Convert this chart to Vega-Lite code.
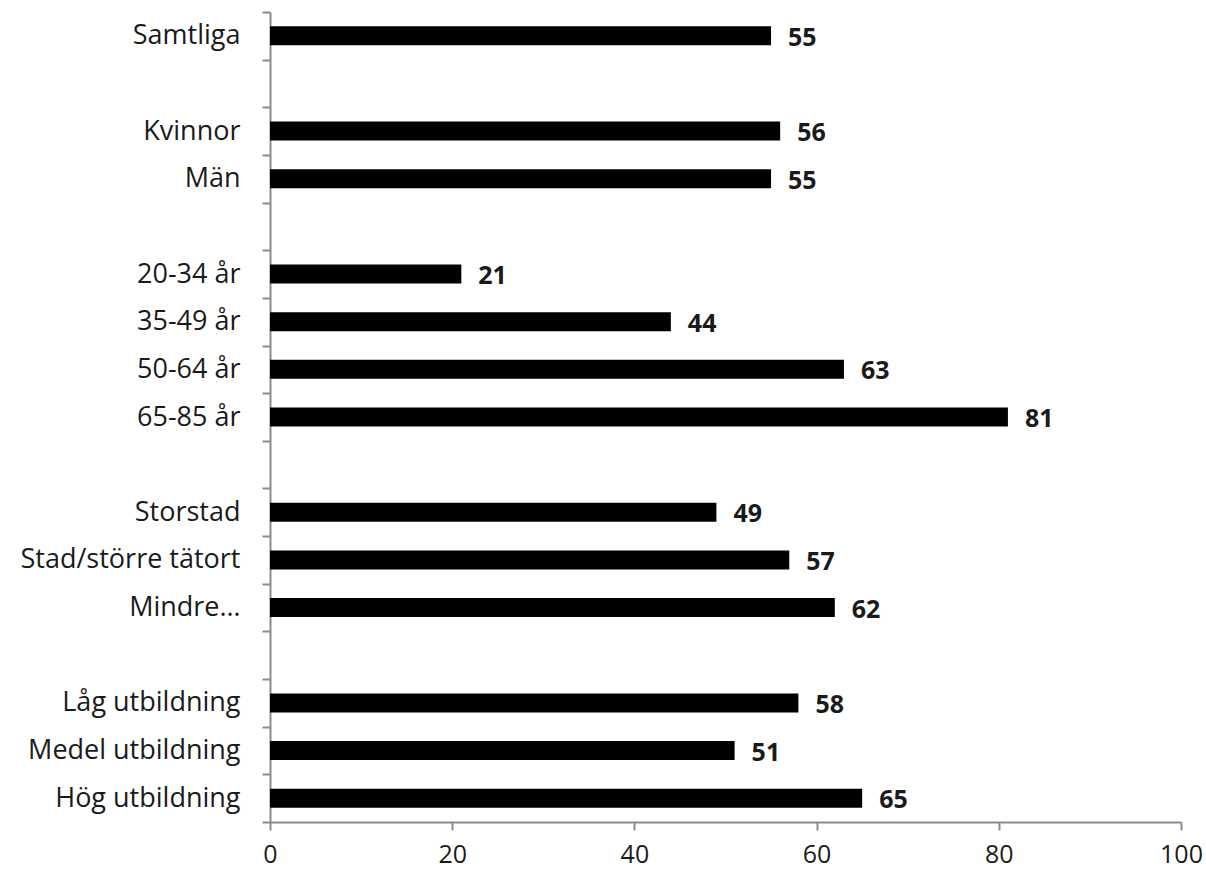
{
  "$schema": "https://vega.github.io/schema/vega-lite/v6.json",
  "autosize": "none",
  "width": 911,
  "height": 810,
  "padding": {"left": 270, "top": 12, "right": 25, "bottom": 54},
  "background": "white",
  "config": {"view": {"stroke": null}, "font": "Open Sans"},
  "data": {
    "values": [
      {"group": "Samtliga", "value": 55},
      {"group": "Kvinnor", "value": 56},
      {"group": "Män", "value": 55},
      {"group": "20-34 år", "value": 21},
      {"group": "35-49 år", "value": 44},
      {"group": "50-64 år", "value": 63},
      {"group": "65-85 år", "value": 81},
      {"group": "Storstad", "value": 49},
      {"group": "Stad/större tätort", "value": 57},
      {"group": "Mindre…", "value": 62},
      {"group": "Låg utbildning", "value": 58},
      {"group": "Medel utbildning", "value": 51},
      {"group": "Hög utbildning", "value": 65}
    ]
  },
  "encoding": {
    "y": {
      "field": "group",
      "type": "nominal",
      "scale": {
        "domain": ["Samtliga", "_gap1", "Kvinnor", "Män", "_gap2", "20-34 år", "35-49 år", "50-64 år", "65-85 år", "_gap3", "Storstad", "Stad/större tätort", "Mindre…", "_gap4", "Låg utbildning", "Medel utbildning", "Hög utbildning"],
        "paddingInner": 0,
        "paddingOuter": 0
      },
      "axis": {
        "title": null,
        "orient": "left",
        "tickBand": "extent",
        "labelExpr": "isString(datum.value) ? (indexof(datum.value, '_gap') == 0 ? '' : datum.value) : ''",
        "domainColor": "#8c8c8c",
        "domainWidth": 2,
        "tickColor": "#8c8c8c",
        "tickWidth": 2,
        "tickSize": 8,
        "labelPadding": 22,
        "labelFontSize": 27,
        "labelColor": "#1a1a1a",
        "labelFont": "Open Sans",
        "labelLimit": 400
      }
    },
    "x": {
      "field": "value",
      "type": "quantitative",
      "scale": {"domain": [0, 100], "nice": false},
      "axis": {
        "title": null,
        "orient": "bottom",
        "values": [0, 20, 40, 60, 80, 100],
        "grid": false,
        "domainColor": "#8c8c8c",
        "domainWidth": 2,
        "tickColor": "#8c8c8c",
        "tickWidth": 2,
        "tickSize": 8,
        "labelPadding": 12,
        "labelFontSize": 25,
        "labelColor": "#1a1a1a",
        "labelFont": "Open Sans",
        "labelFlush": false
      }
    }
  },
  "layer": [
    {
      "mark": {"type": "bar", "color": "#000000", "size": 19}
    },
    {
      "mark": {"type": "text", "align": "left", "baseline": "middle", "dx": 17, "dy": 2, "fontSize": 25, "fontWeight": "bold", "color": "#1a1a1a", "font": "Open Sans"},
      "encoding": {"text": {"field": "value", "type": "quantitative"}}
    }
  ]
}
